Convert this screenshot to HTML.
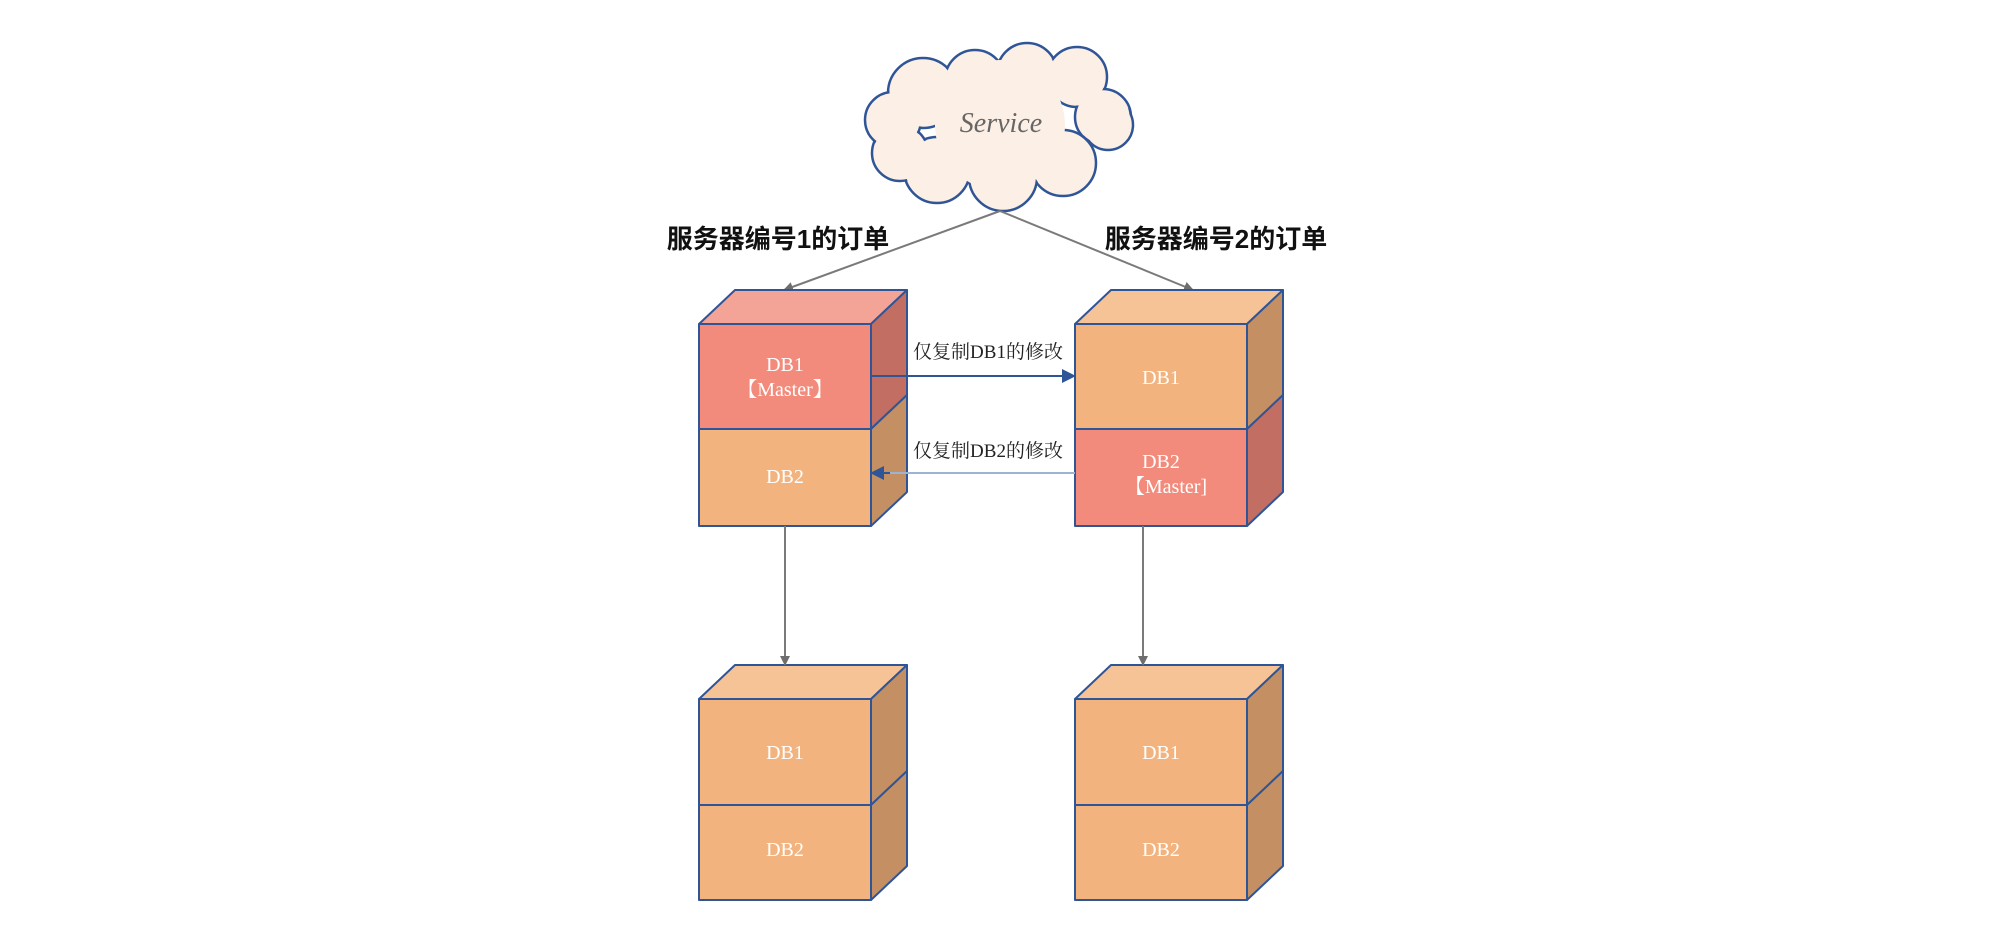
<!DOCTYPE html>
<html><head><meta charset="utf-8"><style>
html,body{margin:0;padding:0;background:#fff;}
svg{display:block}
.t{font-family:"Liberation Serif","Noto Serif CJK SC",serif;fill:#fff;font-size:20px;text-anchor:middle}
.l{font-family:"Liberation Serif","Noto Serif CJK SC",serif;fill:#222;font-size:19px;text-anchor:middle}
.h{font-family:"Liberation Sans","Noto Sans CJK SC",sans-serif;fill:#111;font-size:26px;font-weight:bold;text-anchor:middle}
</style></head><body>
<svg width="2000" height="939" viewBox="0 0 2000 939" xmlns="http://www.w3.org/2000/svg">
<defs>
<marker id="ag" markerWidth="10" markerHeight="10" refX="9" refY="5" orient="auto" markerUnits="userSpaceOnUse"><path d="M0,0 L10,5 L0,10 z" fill="#6e6e6e"/></marker>
<marker id="ab" markerWidth="14" markerHeight="14" refX="13" refY="7" orient="auto" markerUnits="userSpaceOnUse"><path d="M0,0 L14,7 L0,14 z" fill="#2F5597"/></marker>
</defs>
<!-- cloud -->
<g stroke="#2F5597" stroke-width="2.5" fill="#FCEFE5">
<circle cx="923" cy="93" r="35"/><circle cx="1027" cy="73" r="30"/><circle cx="975" cy="80" r="30"/>
<circle cx="1077" cy="77" r="30"/><circle cx="1103" cy="117" r="28"/><circle cx="1108" cy="125" r="25"/>
<circle cx="1063" cy="163" r="33"/><circle cx="1003" cy="177" r="34"/><circle cx="937" cy="170" r="33"/>
<circle cx="900" cy="153" r="28"/><circle cx="893" cy="120" r="28"/>
</g>
<g fill="#FCEFE5">
<circle cx="923" cy="93" r="33.5"/><circle cx="1027" cy="73" r="28.5"/><circle cx="975" cy="80" r="28.5"/>
<circle cx="1077" cy="77" r="28.5"/><circle cx="1103" cy="117" r="26.5"/><circle cx="1108" cy="125" r="23.5"/>
<circle cx="1063" cy="163" r="31.5"/><circle cx="1003" cy="177" r="32.5"/><circle cx="937" cy="170" r="31.5"/>
<circle cx="900" cy="153" r="26.5"/><circle cx="893" cy="120" r="26.5"/>
<circle cx="1000" cy="125" r="65"/>
</g>
<text x="1001" y="132" font-family="Liberation Serif,serif" font-style="italic" font-size="28" fill="#666" text-anchor="middle">Service</text>
<!-- lines from cloud -->
<line x1="1000" y1="211" x2="784" y2="290" stroke="#7a7a7a" stroke-width="2" marker-end="url(#ag)"/>
<line x1="1000" y1="211" x2="1193" y2="290" stroke="#7a7a7a" stroke-width="2" marker-end="url(#ag)"/>
<text x="778" y="248" class="h">服务器编号1的订单</text>
<text x="1216" y="248" class="h">服务器编号2的订单</text>

<!-- cube generator manual -->
<g stroke="#2F5597" stroke-width="2" stroke-linejoin="round">
<!-- left top cube: DB1 red, DB2 orange -->
<polygon points="699,324 735,290 907,290 871,324" fill="#F4A397"/>
<polygon points="871,324 907,290 907,395 871,429" fill="#C26E62"/>
<polygon points="871,429 907,395 907,492 871,526" fill="#C49063"/>
<rect x="699" y="324" width="172" height="105" fill="#F28B7B"/>
<rect x="699" y="429" width="172" height="97" fill="#F2B37E"/>
<!-- right top cube -->
<polygon points="1075,324 1111,290 1283,290 1247,324" fill="#F5C396"/>
<polygon points="1247,324 1283,290 1283,395 1247,429" fill="#C49063"/>
<polygon points="1247,429 1283,395 1283,492 1247,526" fill="#C26E62"/>
<rect x="1075" y="324" width="172" height="105" fill="#F2B37E"/>
<rect x="1075" y="429" width="172" height="97" fill="#F28B7B"/>
<!-- lower left -->
<polygon points="699,699 735,665 907,665 871,699" fill="#F5C396"/>
<polygon points="871,699 907,665 907,771 871,805" fill="#C49063"/>
<polygon points="871,805 907,771 907,866 871,900" fill="#C49063"/>
<rect x="699" y="699" width="172" height="106" fill="#F2B37E"/>
<rect x="699" y="805" width="172" height="95" fill="#F2B37E"/>
<!-- lower right -->
<polygon points="1075,699 1111,665 1283,665 1247,699" fill="#F5C396"/>
<polygon points="1247,699 1283,665 1283,771 1247,805" fill="#C49063"/>
<polygon points="1247,805 1283,771 1283,866 1247,900" fill="#C49063"/>
<rect x="1075" y="699" width="172" height="106" fill="#F2B37E"/>
<rect x="1075" y="805" width="172" height="95" fill="#F2B37E"/>
</g>
<text x="785" y="371" class="t">DB1</text><text x="785" y="396" class="t">【Master】</text>
<text x="785" y="483" class="t">DB2</text>
<text x="1161" y="384" class="t">DB1</text>
<text x="1161" y="468" class="t">DB2</text><text x="1166" y="493" class="t">【Master]</text>
<text x="785" y="759" class="t">DB1</text><text x="785" y="856" class="t">DB2</text>
<text x="1161" y="759" class="t">DB1</text><text x="1161" y="856" class="t">DB2</text>

<!-- replication arrows -->
<line x1="871" y1="376" x2="1075" y2="376" stroke="#2F5597" stroke-width="2" marker-end="url(#ab)"/>
<line x1="1075" y1="473" x2="871" y2="473" stroke="#9DB3D4" stroke-width="2"/>
<line x1="890" y1="473" x2="871" y2="473" stroke="#2F5597" stroke-width="2" marker-end="url(#ab)"/>
<text x="988" y="358" class="l">仅复制DB1的修改</text>
<text x="988" y="457" class="l">仅复制DB2的修改</text>

<!-- vertical arrows -->
<line x1="785" y1="526" x2="785" y2="665" stroke="#7a7a7a" stroke-width="2" marker-end="url(#ag)"/>
<line x1="1143" y1="526" x2="1143" y2="665" stroke="#7a7a7a" stroke-width="2" marker-end="url(#ag)"/>
</svg>
</body></html>
